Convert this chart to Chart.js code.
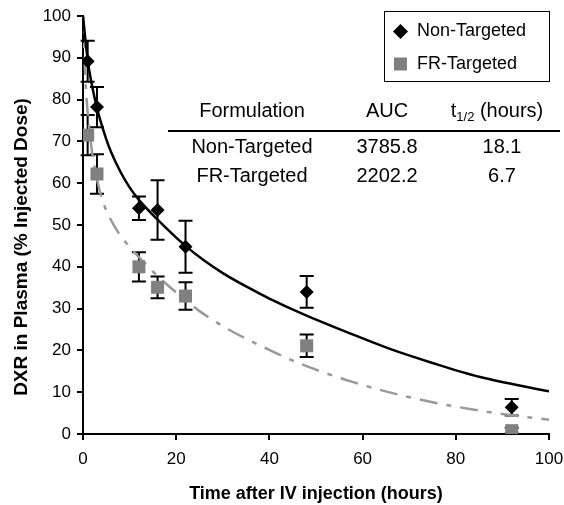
<!DOCTYPE html>
<html><head><meta charset="utf-8">
<script src="https://cdn.jsdelivr.net/npm/chart.js@4/dist/chart.umd.min.js"></script>
<style>html,body{margin:0;padding:0;background:#fff}#wrap{width:564px;height:505px;position:relative}</style>
</head><body><div id="wrap"><canvas id="c" width="564" height="505"></canvas></div>
<script>
// ---- data ----
const times = [1, 3, 12, 16, 22, 48, 92];
const ntValues = [89.2, 78.2, 54.0, 53.6, 44.8, 34.0, 6.4];
const ntErrors = [4.9, 4.8, 2.8, 7.1, 6.2, 3.8, 2.0];
const frValues = [71.5, 62.2, 40.0, 35.1, 33.0, 21.1, 0.8];
const frErrors = [4.8, 4.7, 3.5, 2.6, 3.3, 2.7, 0.7];

const ntCurveX = [0, 1, 2, 3, 4, 5, 6, 8, 10, 12, 16, 22, 26, 30, 35, 40, 47, 57, 66, 75, 85, 100];
const ntCurveY = [100, 89.5, 83, 78, 74, 70.5, 67.5, 62.8, 59, 56, 51.3, 45, 41.5, 38.5, 35.3, 32.4, 28.8, 24.2, 20.3, 17, 13.7, 10.2];
const frCurveX = [0, 0.5, 1, 1.5, 2, 3, 4, 5, 6.5, 8, 10, 12, 14, 16, 19, 22, 25, 30, 35, 40, 46, 52, 58, 66, 75, 84, 92, 100];
const frCurveY = [100, 85, 77, 71.5, 67, 61, 56.5, 53.5, 50.2, 47.5, 44.8, 42.3, 40, 37.8, 34.8, 32, 29.4, 25.8, 22.8, 20.1, 17.1, 14.6, 12.4, 9.9, 7.6, 5.8, 4.5, 3.4];

const seriesNames = ['Non-Targeted', 'FR-Targeted'];
const xTitle = 'Time after IV injection (hours)';
const yTitle = 'DXR in Plasma (% Injected Dose)';
const tableHeader = ['Formulation', 'AUC', 't', '1/2', ' (hours)'];
const tableRows = [['Non-Targeted', '3785.8', '18.1'], ['FR-Targeted', '2202.2', '6.7']];

const FONT = "'Liberation Sans', Arial, sans-serif";
const pts = (xs, ys) => xs.map((x, i) => ({x: x, y: ys[i]}));

const errorBars = {
  id: 'errorBars',
  beforeDatasetsDraw(chart) {
    const {ctx, scales: {x, y}} = chart;
    ctx.save();
    ctx.strokeStyle = '#000';
    ctx.lineWidth = 2;
    chart.data.datasets.forEach(ds => {
      if (!ds.errors) return;
      ds.data.forEach((p, i) => {
        const e = ds.errors[i];
        const px = x.getPixelForValue(p.x);
        const yt = y.getPixelForValue(p.y + e);
        const yb = y.getPixelForValue(p.y - e);
        ctx.beginPath();
        ctx.moveTo(px, yt); ctx.lineTo(px, yb);
        ctx.moveTo(px - 7, yt); ctx.lineTo(px + 7, yt);
        ctx.moveTo(px - 7, yb); ctx.lineTo(px + 7, yb);
        ctx.stroke();
      });
    });
    ctx.restore();
  }
};

const overlay = {
  id: 'overlay',
  afterDraw(chart) {
    const ctx = chart.ctx;
    ctx.save();
    // y title
    ctx.fillStyle = '#000';
    ctx.font = 'bold 19px ' + FONT;
    ctx.textAlign = 'center'; ctx.textBaseline = 'middle';
    ctx.translate(22, 247); ctx.rotate(-Math.PI / 2);
    ctx.fillText(yTitle, 0, 0);
    ctx.setTransform(1, 0, 0, 1, 0, 0);
    // legend box
    ctx.strokeStyle = '#000'; ctx.lineWidth = 1;
    ctx.strokeRect(384.5, 11.5, 165, 70);
    ctx.fillStyle = '#000';
    ctx.beginPath();
    ctx.moveTo(400.5, 24); ctx.lineTo(408, 31.5); ctx.lineTo(400.5, 39); ctx.lineTo(393, 31.5); ctx.closePath();
    ctx.fill();
    ctx.fillStyle = '#808080';
    ctx.fillRect(394, 57.5, 13, 13);
    ctx.fillStyle = '#000';
    ctx.font = '18px ' + FONT;
    ctx.textAlign = 'left';
    ctx.fillText(seriesNames[0], 417, 31);
    ctx.fillText(seriesNames[1], 417, 64);
    // table
    ctx.font = '20px ' + FONT;
    ctx.textAlign = 'center';
    ctx.fillText(tableHeader[0], 252, 111);
    ctx.fillText(tableHeader[1], 387, 111);
    const f1 = '20px ' + FONT, f2 = '13px ' + FONT;
    ctx.font = f1; const wT = ctx.measureText(tableHeader[2]).width;
    const wH = ctx.measureText(tableHeader[4]).width;
    ctx.font = f2; const wS = ctx.measureText(tableHeader[3]).width;
    let sx = 497 - (wT + wS + wH) / 2;
    ctx.textAlign = 'left';
    ctx.font = f1; ctx.fillText(tableHeader[2], sx, 111); sx += wT;
    ctx.font = f2; ctx.fillText(tableHeader[3], sx, 117); sx += wS;
    ctx.font = f1; ctx.fillText(tableHeader[4], sx, 111);
    ctx.lineWidth = 2;
    ctx.beginPath(); ctx.moveTo(168, 131); ctx.lineTo(560, 131); ctx.stroke();
    ctx.textAlign = 'center';
    const colX = [252, 387, 502];
    const rowY = [147, 176];
    tableRows.forEach((r, i) => r.forEach((t, j) => ctx.fillText(t, colX[j], rowY[i])));
    ctx.restore();
  }
};

new Chart(document.getElementById('c'), {
  type: 'scatter',
  data: {
    datasets: [
      {label: seriesNames[0] + ' fit', data: pts(ntCurveX, ntCurveY), showLine: true, borderColor: '#000', borderWidth: 2.5, pointRadius: 0, cubicInterpolationMode: 'monotone', order: 3},
      {label: seriesNames[1] + ' fit', data: pts(frCurveX, frCurveY), showLine: true, borderColor: '#999', borderWidth: 2.5, borderDash: [18, 9, 5, 9], pointRadius: 0, cubicInterpolationMode: 'monotone', order: 3},
      {label: seriesNames[0], data: pts(times, ntValues), errors: ntErrors, pointStyle: 'rectRot', pointRadius: 7, pointHoverRadius: 7, backgroundColor: '#000', borderColor: '#000', borderWidth: 0, order: 1},
      {label: seriesNames[1], data: pts(times, frValues), errors: frErrors, pointStyle: 'rect', pointRadius: 9.2, pointHoverRadius: 9.2, backgroundColor: '#808080', borderColor: '#808080', borderWidth: 0, order: 1}
    ]
  },
  options: {
    responsive: false, animation: false,
    layout: {padding: {top: 16, right: 15, left: 0, bottom: 0}},
    plugins: {legend: {display: false}, tooltip: {enabled: false}},
    scales: {
      x: {
        type: 'linear', min: 0, max: 100,
        ticks: {stepSize: 20, color: '#000', font: {family: FONT, size: 17}, padding: 9},
        grid: {drawOnChartArea: false, drawTicks: true, tickLength: 6, color: '#000', lineWidth: 2},
        border: {display: true, color: '#000', width: 2},
        title: {display: true, text: xTitle, color: '#000', font: {family: FONT, size: 18, weight: 'bold'}, padding: {top: 0, bottom: 0}},
        afterFit(s) { s.height = 71; s.paddingRight = 0; s.paddingLeft = 0; }
      },
      y: {
        type: 'linear', min: 0, max: 100,
        ticks: {stepSize: 10, color: '#000', font: {family: FONT, size: 17}, padding: 6},
        grid: {drawOnChartArea: false, drawTicks: true, tickLength: 6, color: '#000', lineWidth: 2},
        border: {display: true, color: '#000', width: 2},
        afterFit(s) { s.width = 83; s.paddingTop = 0; s.paddingBottom = 0; }
      }
    }
  },
  plugins: [errorBars, overlay]
});
</script>
</body></html>
